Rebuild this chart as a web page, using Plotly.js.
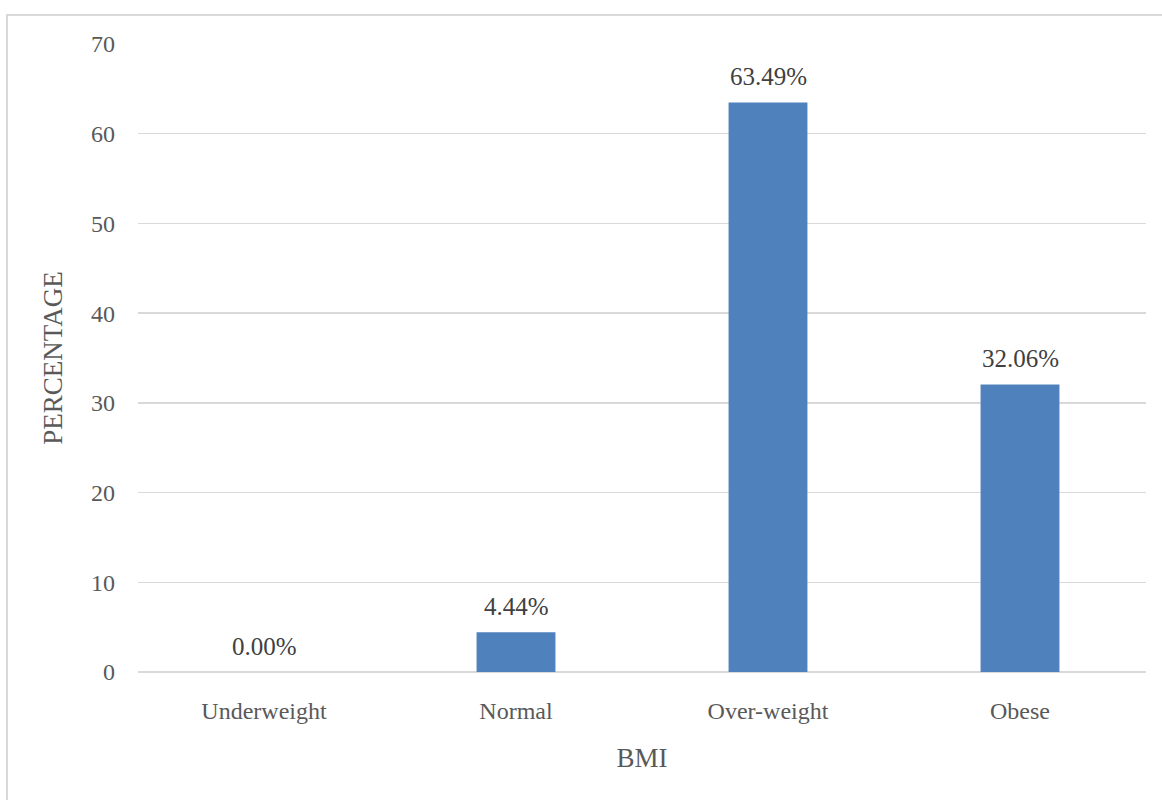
<!DOCTYPE html>
<html>
<head>
<meta charset="utf-8">
<script src="https://cdn.plot.ly/plotly-3.0.1.min.js"></script>
<style>
html,body{margin:0;padding:0;background:#fff;}
#chart{width:1162px;height:800px;}
#frame{position:absolute;left:6px;top:14px;width:1170px;height:800px;border:2px solid #d9d9d9;pointer-events:none;box-sizing:border-box;}
</style>
</head>
<body>
<div id="chart"></div>
<div id="frame"></div>
<script>
const categories = ["Underweight", "Normal", "Over-weight", "Obese"];
const percentages = [0.00, 4.44, 63.49, 32.06];
const labels = ["0.00%", "4.44%", "63.49%", "32.06%"];
const yTicks = [0, 10, 20, 30, 40, 50, 60, 70];

const font = "Liberation Serif, Times New Roman, serif";

const trace = {
  type: "bar",
  x: categories,
  y: percentages,
  marker: {color: "#4f81bd", line: {width: 0}},
  width: 0.313,
  hoverinfo: "x+y"
};

const annotations = categories.map((c, i) => ({
  x: c, y: percentages[i], xref: "x", yref: "y",
  text: labels[i], showarrow: false, yanchor: "bottom", yshift: 10,
  font: {family: font, size: 25, color: "#404040"}
}));

const layout = {
  width: 1162, height: 800,
  margin: {l: 138, r: 16, t: 44, b: 128},
  paper_bgcolor: "#fff", plot_bgcolor: "#fff",
  font: {family: font, size: 24, color: "#595959"},
  showlegend: false,
  xaxis: {
    type: "category",
    showgrid: false, zeroline: false, showline: false,
    ticks: "", ticklabelstandoff: 22,
    tickfont: {family: font, size: 24, color: "#595959"},
    title: {text: "BMI", font: {family: font, size: 27, color: "#595959"}, standoff: 25}
  },
  yaxis: {
    range: [0, 70], tickvals: yTicks, ticktext: yTicks.map(String),
    showgrid: true, gridcolor: "#d9d9d9", gridwidth: 1.5,
    zeroline: true, zerolinecolor: "#d9d9d9", zerolinewidth: 1.5,
    showline: false, ticks: "", ticklabelstandoff: 22,
    tickfont: {family: font, size: 24, color: "#595959"},
    title: {text: "PERCENTAGE", font: {family: font, size: 27, color: "#595959"}, standoff: 20}
  },
  annotations: annotations
};

Plotly.newPlot("chart", [trace], layout, {displayModeBar: false, staticPlot: true});
</script>
</body>
</html>
